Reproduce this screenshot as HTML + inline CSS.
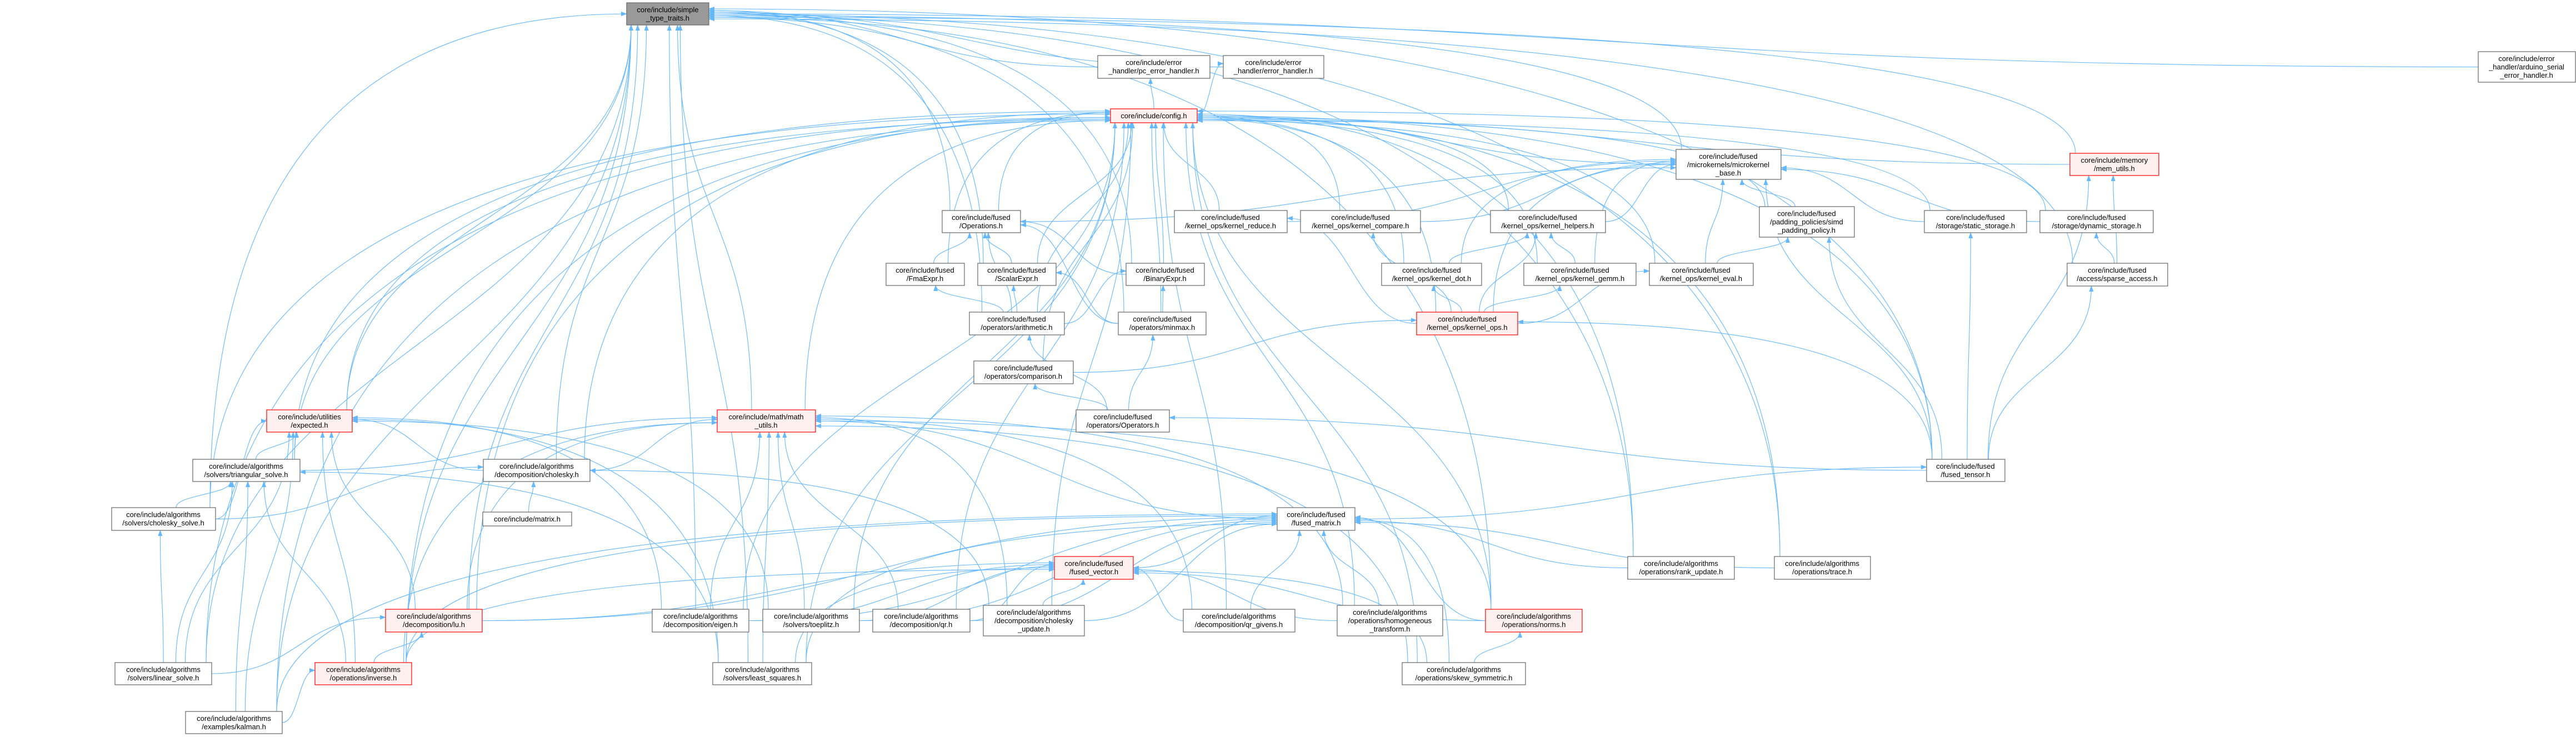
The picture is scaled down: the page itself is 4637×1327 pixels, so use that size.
<!DOCTYPE html>
<html><head><meta charset="utf-8"><style>
html,body{margin:0;padding:0;background:#fff;}
svg{display:block;}
text{font-family:"Liberation Sans","DejaVu Sans",sans-serif;font-size:13px;fill:#000;text-anchor:middle;}
.n rect{fill:#fff;stroke:#666;stroke-width:1.2;}
.r rect{fill:#fff0f0;stroke:#ff0000;stroke-width:1.2;}
.g rect{fill:#999;stroke:#666;stroke-width:1.2;}
</style></head><body>
<svg id="svg" width="4637" height="1327" viewBox="0 0 4637 1327" xmlns="http://www.w3.org/2000/svg">
<defs><marker id="ah" markerUnits="userSpaceOnUse" markerWidth="11" markerHeight="8" refX="10" refY="4" orient="auto"><path d="M0,0 L11,4 L0,8 z" fill="#63b8ff"/></marker></defs>
<g id="edges" fill="none" stroke="#63b8ff" stroke-width="1.1"></g>
<g id="nodes">
<g class="g" id="S"><rect x="1128" y="5" width="148" height="40"/><text x="1202" y="22">core/include/simple</text><text x="1202" y="37">_type_traits.h</text></g>
<g class="n" id="PC"><rect x="1976" y="100" width="202" height="41"/><text x="2077" y="117">core/include/error</text><text x="2077" y="132">_handler/pc_error_handler.h</text></g>
<g class="n" id="EH"><rect x="2202" y="100" width="181" height="41"/><text x="2292" y="117">core/include/error</text><text x="2292" y="132">_handler/error_handler.h</text></g>
<g class="n" id="AR"><rect x="4461" y="93" width="175" height="55"/><text x="4548" y="110">core/include/error</text><text x="4548" y="125">_handler/arduino_serial</text><text x="4548" y="140">_error_handler.h</text></g>
<g class="r" id="CF"><rect x="1999" y="196" width="156" height="25"/><text x="2077" y="213">core/include/config.h</text></g>
<g class="n" id="MK"><rect x="3017" y="269" width="189" height="54"/><text x="3111" y="286">core/include/fused</text><text x="3111" y="301">/microkernels/microkernel</text><text x="3111" y="316">_base.h</text></g>
<g class="r" id="MU"><rect x="3726" y="276" width="160" height="40"/><text x="3806" y="293">core/include/memory</text><text x="3806" y="308">/mem_utils.h</text></g>
<g class="n" id="OP"><rect x="1696" y="379" width="141" height="40"/><text x="1766" y="396">core/include/fused</text><text x="1766" y="411">/Operations.h</text></g>
<g class="n" id="KR"><rect x="2114" y="379" width="203" height="40"/><text x="2215" y="396">core/include/fused</text><text x="2215" y="411">/kernel_ops/kernel_reduce.h</text></g>
<g class="n" id="KC"><rect x="2341" y="379" width="216" height="40"/><text x="2449" y="396">core/include/fused</text><text x="2449" y="411">/kernel_ops/kernel_compare.h</text></g>
<g class="n" id="KH"><rect x="2683" y="379" width="207" height="40"/><text x="2786" y="396">core/include/fused</text><text x="2786" y="411">/kernel_ops/kernel_helpers.h</text></g>
<g class="n" id="SP"><rect x="3167" y="372" width="171" height="55"/><text x="3252" y="389">core/include/fused</text><text x="3252" y="404">/padding_policies/simd</text><text x="3252" y="419">_padding_policy.h</text></g>
<g class="n" id="SS"><rect x="3464" y="379" width="184" height="40"/><text x="3556" y="396">core/include/fused</text><text x="3556" y="411">/storage/static_storage.h</text></g>
<g class="n" id="DS"><rect x="3672" y="379" width="204" height="40"/><text x="3774" y="396">core/include/fused</text><text x="3774" y="411">/storage/dynamic_storage.h</text></g>
<g class="n" id="FE"><rect x="1595" y="474" width="141" height="40"/><text x="1665" y="491">core/include/fused</text><text x="1665" y="506">/FmaExpr.h</text></g>
<g class="n" id="SE"><rect x="1760" y="474" width="141" height="40"/><text x="1830" y="491">core/include/fused</text><text x="1830" y="506">/ScalarExpr.h</text></g>
<g class="n" id="BE"><rect x="2027" y="474" width="141" height="40"/><text x="2097" y="491">core/include/fused</text><text x="2097" y="506">/BinaryExpr.h</text></g>
<g class="n" id="KD"><rect x="2487" y="474" width="180" height="40"/><text x="2577" y="491">core/include/fused</text><text x="2577" y="506">/kernel_ops/kernel_dot.h</text></g>
<g class="n" id="KG"><rect x="2743" y="474" width="202" height="40"/><text x="2844" y="491">core/include/fused</text><text x="2844" y="506">/kernel_ops/kernel_gemm.h</text></g>
<g class="n" id="KE"><rect x="2969" y="474" width="187" height="40"/><text x="3062" y="491">core/include/fused</text><text x="3062" y="506">/kernel_ops/kernel_eval.h</text></g>
<g class="n" id="SA"><rect x="3721" y="474" width="181" height="41"/><text x="3811" y="491">core/include/fused</text><text x="3811" y="506">/access/sparse_access.h</text></g>
<g class="n" id="AT"><rect x="1745" y="562" width="171" height="41"/><text x="1830" y="579">core/include/fused</text><text x="1830" y="594">/operators/arithmetic.h</text></g>
<g class="n" id="MM"><rect x="2013" y="562" width="158" height="41"/><text x="2092" y="579">core/include/fused</text><text x="2092" y="594">/operators/minmax.h</text></g>
<g class="r" id="KO"><rect x="2550" y="562" width="182" height="41"/><text x="2641" y="579">core/include/fused</text><text x="2641" y="594">/kernel_ops/kernel_ops.h</text></g>
<g class="n" id="CP"><rect x="1753" y="650" width="179" height="41"/><text x="1842" y="667">core/include/fused</text><text x="1842" y="682">/operators/comparison.h</text></g>
<g class="n" id="OS"><rect x="1937" y="738" width="168" height="40"/><text x="2021" y="755">core/include/fused</text><text x="2021" y="770">/operators/Operators.h</text></g>
<g class="r" id="EX"><rect x="480" y="738" width="154" height="40"/><text x="557" y="755">core/include/utilities</text><text x="557" y="770">/expected.h</text></g>
<g class="r" id="MU2"><rect x="1291" y="738" width="177" height="40"/><text x="1379" y="755">core/include/math/math</text><text x="1379" y="770">_utils.h</text></g>
<g class="n" id="TS"><rect x="347" y="827" width="193" height="40"/><text x="443" y="844">core/include/algorithms</text><text x="443" y="859">/solvers/triangular_solve.h</text></g>
<g class="n" id="CH"><rect x="870" y="827" width="192" height="40"/><text x="966" y="844">core/include/algorithms</text><text x="966" y="859">/decomposition/cholesky.h</text></g>
<g class="n" id="FT"><rect x="3468" y="827" width="141" height="40"/><text x="3538" y="844">core/include/fused</text><text x="3538" y="859">/fused_tensor.h</text></g>
<g class="n" id="CS"><rect x="201" y="914" width="187" height="41"/><text x="294" y="931">core/include/algorithms</text><text x="294" y="946">/solvers/cholesky_solve.h</text></g>
<g class="n" id="MX"><rect x="869" y="922" width="160" height="25"/><text x="949" y="939">core/include/matrix.h</text></g>
<g class="n" id="FM"><rect x="2299" y="914" width="140" height="41"/><text x="2369" y="931">core/include/fused</text><text x="2369" y="946">/fused_matrix.h</text></g>
<g class="r" id="FV"><rect x="1898" y="1002" width="142" height="41"/><text x="1969" y="1019">core/include/fused</text><text x="1969" y="1034">/fused_vector.h</text></g>
<g class="n" id="RU"><rect x="2930" y="1002" width="192" height="41"/><text x="3026" y="1019">core/include/algorithms</text><text x="3026" y="1034">/operations/rank_update.h</text></g>
<g class="n" id="TR"><rect x="3194" y="1002" width="173" height="41"/><text x="3280" y="1019">core/include/algorithms</text><text x="3280" y="1034">/operations/trace.h</text></g>
<g class="r" id="LU"><rect x="694" y="1097" width="174" height="41"/><text x="781" y="1114">core/include/algorithms</text><text x="781" y="1129">/decomposition/lu.h</text></g>
<g class="n" id="EG"><rect x="1174" y="1097" width="174" height="41"/><text x="1261" y="1114">core/include/algorithms</text><text x="1261" y="1129">/decomposition/eigen.h</text></g>
<g class="n" id="TP"><rect x="1373" y="1097" width="174" height="41"/><text x="1460" y="1114">core/include/algorithms</text><text x="1460" y="1129">/solvers/toeplitz.h</text></g>
<g class="n" id="QR"><rect x="1571" y="1097" width="175" height="41"/><text x="1658" y="1114">core/include/algorithms</text><text x="1658" y="1129">/decomposition/qr.h</text></g>
<g class="n" id="CU"><rect x="1770" y="1090" width="182" height="55"/><text x="1861" y="1107">core/include/algorithms</text><text x="1861" y="1122">/decomposition/cholesky</text><text x="1861" y="1137">_update.h</text></g>
<g class="n" id="QG"><rect x="2130" y="1097" width="201" height="41"/><text x="2230" y="1114">core/include/algorithms</text><text x="2230" y="1129">/decomposition/qr_givens.h</text></g>
<g class="n" id="HT"><rect x="2407" y="1090" width="190" height="55"/><text x="2502" y="1107">core/include/algorithms</text><text x="2502" y="1122">/operations/homogeneous</text><text x="2502" y="1137">_transform.h</text></g>
<g class="r" id="NO"><rect x="2674" y="1097" width="174" height="41"/><text x="2761" y="1114">core/include/algorithms</text><text x="2761" y="1129">/operations/norms.h</text></g>
<g class="n" id="LS"><rect x="207" y="1193" width="174" height="40"/><text x="294" y="1210">core/include/algorithms</text><text x="294" y="1225">/solvers/linear_solve.h</text></g>
<g class="r" id="IN"><rect x="567" y="1193" width="174" height="40"/><text x="654" y="1210">core/include/algorithms</text><text x="654" y="1225">/operations/inverse.h</text></g>
<g class="n" id="LQ"><rect x="1283" y="1193" width="178" height="40"/><text x="1372" y="1210">core/include/algorithms</text><text x="1372" y="1225">/solvers/least_squares.h</text></g>
<g class="n" id="SK"><rect x="2524" y="1193" width="222" height="40"/><text x="2635" y="1210">core/include/algorithms</text><text x="2635" y="1225">/operations/skew_symmetric.h</text></g>
<g class="n" id="KA"><rect x="334" y="1281" width="174" height="40"/><text x="421" y="1298">core/include/algorithms</text><text x="421" y="1313">/examples/kalman.h</text></g>
</g>
</svg>
<script>
(function(){
var E={
S:"PC EH AR MK MU SA FT OP SE BE AT MM EX MU2 TS CH CS LS KA LU IN EG LQ TR RU NO",
CF:"OP KR KC KH SP SS DS FE SE BE KD KG KE AT MM CP MK MU EX MU2 TS CH CS FT LU EG QR CU QG NO SK LS IN KA TP HT RU TR LQ KO",
PC:"CF",EH:"CF",
MK:"KR KC KH SP SS DS KD KG KE KO FT OP",
SP:"KE FT",SS:"FT",DS:"SA",SA:"FT",MU:"FT SA",
KH:"KD KG KO",KR:"KO",KC:"KO",KD:"KO",KG:"KO",KE:"KO",
OP:"FE SE BE AT MM",FE:"AT",SE:"AT MM",BE:"AT MM",
AT:"OS",MM:"OS",CP:"OS",KO:"CP FT",OS:"FT",FT:"FM",
FM:"FV LU EG TP QR CU QG HT NO SK RU TR LQ KA IN",
FV:"QR CU QG HT SK NO LU EG TP LQ IN",
EX:"TS CH CS LS LU IN KA EG LQ TP",
MU2:"TS CH FM LU EG TP QR CU QG NO IN LQ SK HT",
TS:"CS LS IN LQ KA",CH:"CS MX CU",CS:"LS",LU:"LS IN",IN:"KA",NO:"SK"};
function box(id){var r=document.querySelector('#'+id+' rect');var x=+r.getAttribute('x'),y=+r.getAttribute('y'),w=+r.getAttribute('width'),h=+r.getAttribute('height');return {x1:x,x2:x+w,y1:y,y2:y+h,cx:x+w/2,cy:y+h/2,w:w,h:h};}
function cl(v,a){return Math.max(-a,Math.min(a,v));}
var g=document.getElementById('edges'),out='';
var cnt={};
for(var p in E){var P=box(p);var cs=E[p].split(' ');
for(var i=0;i<cs.length;i++){var c=cs[i];if(!c)continue;var C=box(c);
cnt[p]=(cnt[p]||0)+1;var k=cnt[p];var j=((k%7)-3)*3;
var dx=C.cx-P.cx,dy=C.y1-P.y2,d;
if(Math.abs(dx)>Math.max(dy,1)&&Math.abs(dx)>(P.w+C.w)/2+40){
 var ex=dx>0?P.x2:P.x1,ey=P.cy+cl(j,P.h/2-4);
 var sx,sy;
 if(dy<150){sx=dx>0?C.x1:C.x2;sy=C.cy;d='M'+sx+','+sy+' C'+(sx+(ex-sx)*0.5)+','+sy+' '+(sx+(ex-sx)*0.5)+','+ey+' '+ex+','+ey;}
 else{sx=C.cx-cl(dx*0.1,C.w/2-10);sy=C.y1;d='M'+sx+','+sy+' C'+sx+','+(ey+(sy-ey)*0.15)+' '+(ex+(sx-ex)*0.45)+','+ey+' '+ex+','+ey;}
}else{
 var ex2=P.cx+cl(dx*0.15+j,P.w/2-8),ey2=P.y2;
 var sx2=C.cx-cl(dx*0.15,C.w/2-10),sy2=C.y1;var h=(sy2-ey2)*0.5;
 d='M'+sx2+','+sy2+' C'+sx2+','+(sy2-h)+' '+ex2+','+(ey2+h)+' '+ex2+','+ey2;
}
out+='<path d="'+d+'" marker-end="url(#ah)"/>';
}}
g.innerHTML=out;
})();
</script>
</body></html>
